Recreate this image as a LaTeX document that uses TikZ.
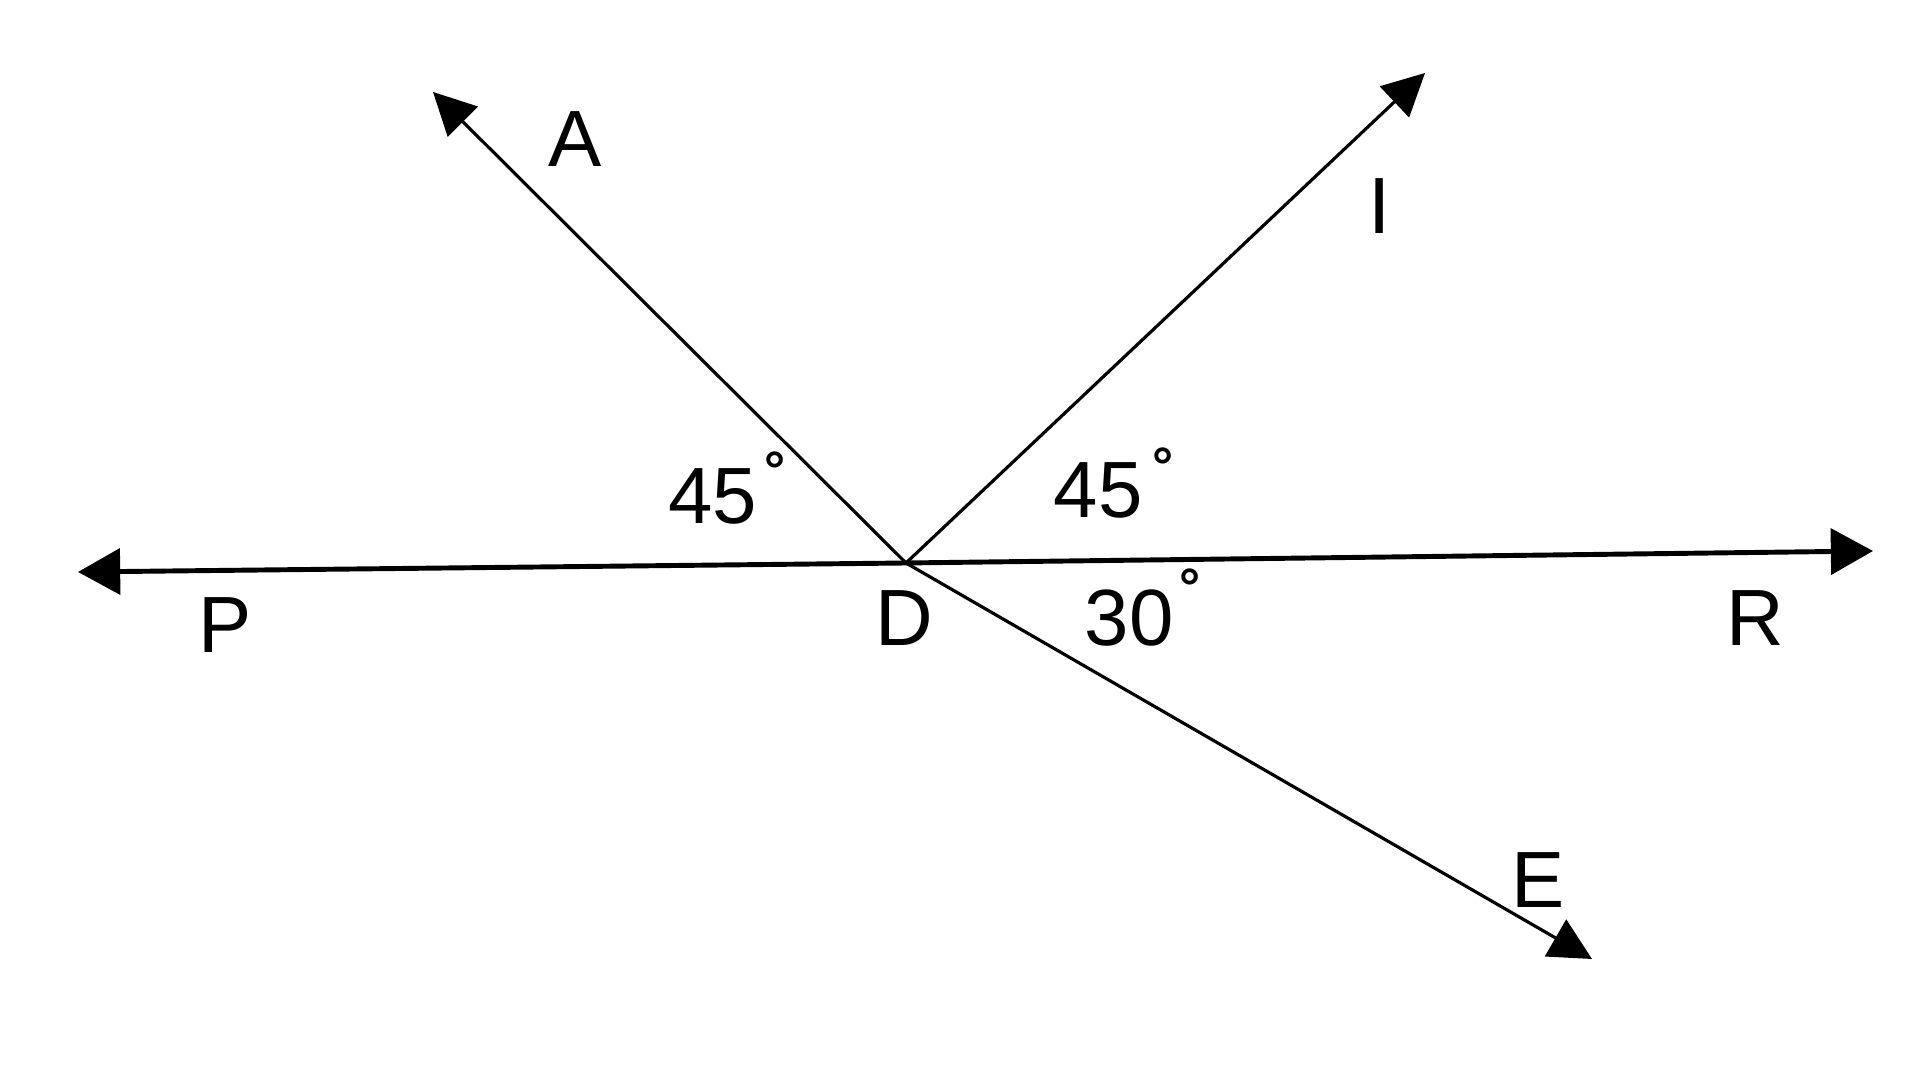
\documentclass[tikz,border=0pt]{standalone}
\usepackage{fontspec}
\setmainfont{Liberation Sans}
\usepackage{tikz}
\usetikzlibrary{arrows.meta, positioning, calc}

\begin{document}
\begin{tikzpicture}[
    ray/.style={black, line width=0.9pt, -{Triangle[length=12pt, width=12pt]}},
    axis/.style={black, line width=1.4pt, {Triangle[length=12pt, width=13pt]}-{Triangle[length=12pt, width=13pt]}},
    lbl/.style={font=\fontsize{22.7}{26}\selectfont, inner sep=0pt},
    deg/.style={font=\fontsize{15}{16}\selectfont\bfseries, inner sep=0pt}
  ]
  \useasboundingbox (0, 0) rectangle (19.2, 10.8);

  % Points
  \coordinate (D) at (9.06, 5.17);
  \coordinate (P) at (0.78, 5.08);
  \coordinate (R) at (18.73, 5.29);
  \coordinate (A) at (4.33, 9.88);
  \coordinate (I) at (14.25, 10.07);
  \coordinate (E) at (15.92, 1.21);

  % Lines
  \draw[axis] (P) -- (D) -- (R);
  \draw[ray] (D) -- (A);
  \draw[ray] (D) -- (I);
  \draw[ray] (D) -- (E);

  % Point labels
  \node[lbl] (labA) at (5.75, 9.41) {A};
  \node[lbl] (labI) at (13.80, 8.74) {I};
  \node[lbl] (labP) at (2.25, 4.55) {P};
  \node[lbl] (labD) at (9.04, 4.62) {D};
  \node[lbl] (labR) at (17.55, 4.62) {R};
  \node[lbl] (labE) at (15.38, 2.00) {E};

  % Angles
  \node[lbl] (angAP) at (7.13, 5.84) {45};
  \node[deg] at (7.75, 6.10) {°};
  \node[lbl] (angIR) at (10.98, 5.90) {45};
  \node[deg] at (11.63, 6.14) {°};
  \node[lbl] (angRE) at (11.29, 4.62) {30};
  \node[deg] at (11.90, 4.93) {°};
\end{tikzpicture}
\end{document}
